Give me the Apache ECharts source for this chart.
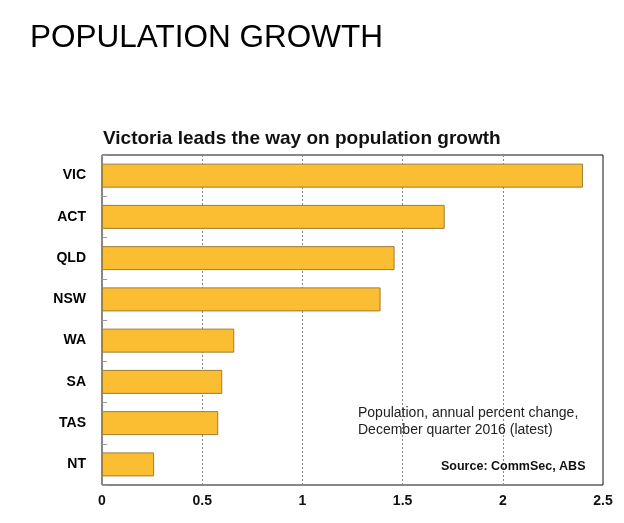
<!DOCTYPE html>
<html>
<head>
<meta charset="utf-8">
<script src="https://cdn.jsdelivr.net/npm/echarts@6/dist/echarts.min.js"></script>
<style>
html,body{margin:0;padding:0;background:#fff;}
#c{width:624px;height:523px;}
</style>
</head>
<body>
<div id="c"></div>
<script>
var categories = ['VIC', 'ACT', 'QLD', 'NSW', 'WA', 'SA', 'TAS', 'NT'];
var growth = [2.40, 1.71, 1.46, 1.39, 0.66, 0.60, 0.58, 0.26];
var xTicks = [0, 0.5, 1, 1.5, 2, 2.5];

var chart = echarts.init(document.getElementById('c'));
var font = 'Liberation Sans, Arial, sans-serif';
chart.setOption({
  animation: false,
  title: [
    {text: 'POPULATION GROWTH', left: 25, top: 17,
     textStyle: {fontFamily: font, fontSize: 31.5, fontWeight: 'normal', color: '#000'}},
    {text: 'Victoria leads the way on population growth', left: 98, top: 124,
     textStyle: {fontFamily: font, fontSize: 19, fontWeight: 'bold', color: '#111'}},
    {text: 'Population, annual percent change,\nDecember quarter 2016 (latest)', left: 353, top: 400,
     textStyle: {fontFamily: font, fontSize: 14, fontWeight: 'normal', color: '#222', lineHeight: 17}},
    {text: 'Source: CommSec, ABS', left: 436, top: 455,
     textStyle: {fontFamily: font, fontSize: 12.5, fontWeight: 'bold', color: '#111'}}
  ],
  grid: {left: 102, right: 21, top: 155, bottom: 38, show: true, borderColor: '#111', borderWidth: 1, backgroundColor: 'transparent'},
  xAxis: {
    type: 'value', min: 0, max: 2.5, interval: 0.5,
    axisLine: {show: false},
    axisTick: {show: false},
    splitLine: {show: true, lineStyle: {color: '#888', type: [2, 2], width: 1}},
    axisLabel: {
      margin: 9, color: '#111', fontFamily: font, fontSize: 14, fontWeight: 'bold',
      formatter: function (v) { return xTicks.indexOf(v) >= 0 ? String(v) : ''; }
    }
  },
  yAxis: {
    type: 'category', data: categories, inverse: true,
    axisLine: {show: false},
    axisTick: {show: true, inside: true, length: 5, lineStyle: {color: '#999'}},
    axisLabel: {margin: 16, color: '#000', fontFamily: font, fontSize: 14, fontWeight: 'bold'}
  },
  series: [{
    type: 'bar', data: growth, barWidth: 24,
    itemStyle: {color: '#FBBE33', borderColor: '#9E7D34', borderWidth: 1}
  }]
});
</script>
</body>
</html>
